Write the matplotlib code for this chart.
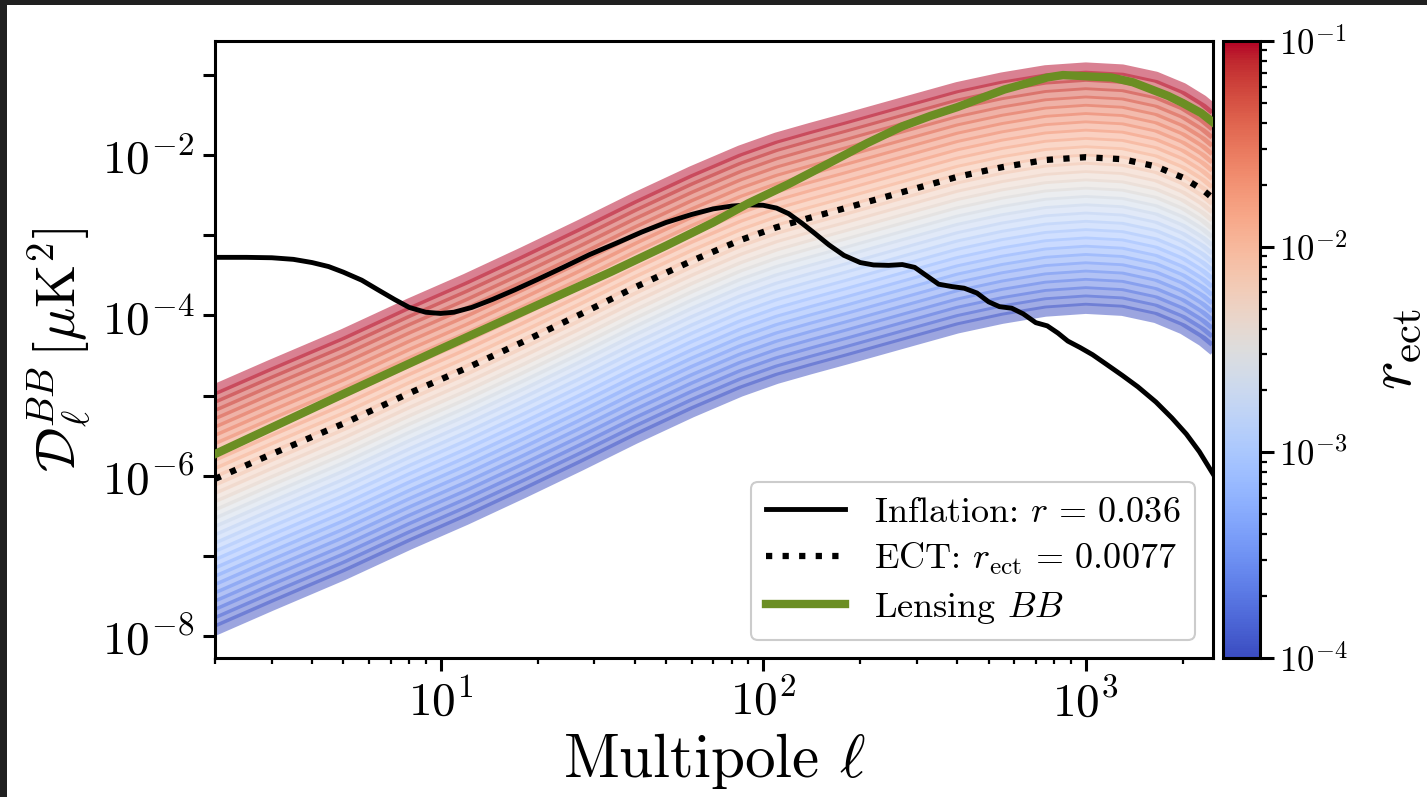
import numpy as np
import matplotlib
matplotlib.use('Agg')
import matplotlib.pyplot as plt
from matplotlib.colors import LogNorm
from matplotlib.cm import ScalarMappable
from matplotlib.patches import Rectangle
from matplotlib.ticker import FixedLocator, NullLocator, FuncFormatter

plt.rcParams['font.family'] = 'serif'
plt.rcParams['font.serif'] = ['cmr10']
plt.rcParams['mathtext.fontset'] = 'cm'
plt.rcParams['axes.formatter.use_mathtext'] = True

# ECT spectrum (r_ect = 0.0077), log10 of D_ell
r_ect_ref = 0.0077
ell_ect = [2, 3, 5, 8, 12, 18, 27, 40, 60, 85, 110, 140, 180, 230, 300, 400, 550, 750,
           1000, 1300, 1650, 2000, 2300, 2500]
logD_ect = [-6.04, -5.73, -5.35, -4.97, -4.66, -4.33, -3.99, -3.65, -3.32, -3.06, -2.90,
            -2.78, -2.66, -2.54, -2.41, -2.27, -2.15, -2.06, -2.025, -2.05, -2.14, -2.28,
            -2.43, -2.55]

# inflationary BB, r = 0.036
ell_inf = [2, 2.5, 3.0, 3.5, 4.0, 4.5, 5.0, 5.7, 6.4, 7.2, 8.0, 9.0, 10, 11, 12.5, 14.5,
           17, 20, 24, 29, 35, 42, 50, 60, 70, 80, 90, 100, 110, 120, 132, 145, 160, 178,
           200, 220, 245, 270, 295, 320, 350, 385, 420, 460, 500, 540, 590, 640, 700, 760,
           820, 880, 960, 1050, 1150, 1300, 1450, 1650, 1850, 2050, 2250, 2500]
logD_inf = [-3.275, -3.275, -3.28, -3.30, -3.34, -3.39, -3.46, -3.56, -3.68, -3.80, -3.90,
            -3.96, -3.975, -3.96, -3.90, -3.80, -3.68, -3.55, -3.40, -3.24, -3.10, -2.96,
            -2.84, -2.74, -2.67, -2.635, -2.62, -2.625, -2.66, -2.73, -2.85, -2.98, -3.12,
            -3.25, -3.34, -3.37, -3.375, -3.365, -3.40, -3.50, -3.61, -3.64, -3.66, -3.72,
            -3.83, -3.89, -3.91, -3.98, -4.09, -4.13, -4.22, -4.32, -4.40, -4.49, -4.60,
            -4.75, -4.89, -5.08, -5.28, -5.48, -5.70, -6.00]

# lensing BB
ell_lens = [2, 5, 10, 20, 33.6, 50, 70, 90, 120, 160, 210, 270, 330, 400, 480, 560, 660,
            760, 850, 950, 1050, 1200, 1400, 1600, 1800, 2000, 2280, 2500]
logD_lens = [-5.73, -4.98, -4.42, -3.87, -3.46, -3.13, -2.84, -2.60, -2.36, -2.10, -1.85,
             -1.64, -1.51, -1.40, -1.28, -1.18, -1.10, -1.03, -1.0, -1.01, -1.02, -1.03,
             -1.09, -1.18, -1.26, -1.35, -1.475, -1.60]

# r_ect values of the coloured family
r_ect_grid = np.logspace(-4, -1, 30)

W, H = 1427, 797
fig = plt.figure(figsize=(W / 100, H / 100), dpi=100)
fig.patch.set_facecolor('#202020')
fig.patches.append(Rectangle((7 / W, 0), 1 - 7 / W, 1 - 5 / H, transform=fig.transFigure,
                             facecolor='white', edgecolor='none', zorder=-5))

ax = fig.add_axes([215 / W, 1 - 658 / H, 998 / W, 617 / H])
cax = fig.add_axes([1223 / W, 1 - 658 / H, 37 / W, 617 / H])

cmap = plt.get_cmap('coolwarm')
norm = LogNorm(1e-4, 1e-1)

ell_ect = np.array(ell_ect)
D_ect = 10.0 ** np.array(logD_ect)
for r in r_ect_grid:
    ax.plot(ell_ect, D_ect * r / r_ect_ref, color=cmap(norm(r)), lw=8, alpha=0.5,
            solid_capstyle='butt', zorder=1)

ax.plot(ell_inf, 10.0 ** np.array(logD_inf), color='black', lw=3.5,
        label=r'Inflation: $r\,=\,0.036$', zorder=3)
ax.plot(ell_ect, D_ect, color='black', lw=4.5, ls=':',
        label=r'ECT: $r_{\rm ect}\,=\,0.0077$', zorder=4)
ax.plot(ell_lens, 10.0 ** np.array(logD_lens), color='olivedrab', lw=6,
        label=r'Lensing $BB$', zorder=5)

ax.set_xscale('log')
ax.set_yscale('log')
ax.set_xlim(2, 2480)
ax.set_ylim(10 ** -8.275, 10 ** -0.575)

ax.yaxis.set_major_locator(FixedLocator(10.0 ** np.arange(-8, 0)))
ax.yaxis.set_minor_locator(NullLocator())
ax.yaxis.set_major_formatter(FuncFormatter(
    lambda v, p: r'$10^{%d}$' % round(np.log10(v)) if round(np.log10(v)) % 2 == 0 else ''))

for s in ax.spines.values():
    s.set_linewidth(2.2)
ax.tick_params(which='major', length=9, width=2.2, labelsize=34, direction='out', pad=6)
ax.tick_params(which='minor', length=4.5, width=1.6, direction='out')

ax.set_xlabel(r'Multipole $\ell$', fontsize=44, labelpad=4)
ax.set_ylabel(r'$\mathcal{D}_\ell^{BB}\,[\mu{\rm K}^2]$', fontsize=40, labelpad=6)

leg = ax.legend(loc='lower right', fontsize=26, handlelength=2.2, labelspacing=0.34,
                fancybox=True, framealpha=1, edgecolor='#cccccc', borderaxespad=0.5)
leg.get_frame().set_linewidth(1.5)

sm = ScalarMappable(norm=norm, cmap=cmap)
cb = fig.colorbar(sm, cax=cax)
cb.outline.set_linewidth(2.2)
cax.tick_params(which='major', length=10, width=2.2, labelsize=25, direction='out')
cax.tick_params(which='minor', length=5, width=1.6, direction='out')
cb.set_label(r'$r_{\rm ect}$', fontsize=44)
cax.yaxis.set_label_coords(3.9, 0.5)

fig.savefig('out.png', dpi=100, facecolor=fig.get_facecolor())
